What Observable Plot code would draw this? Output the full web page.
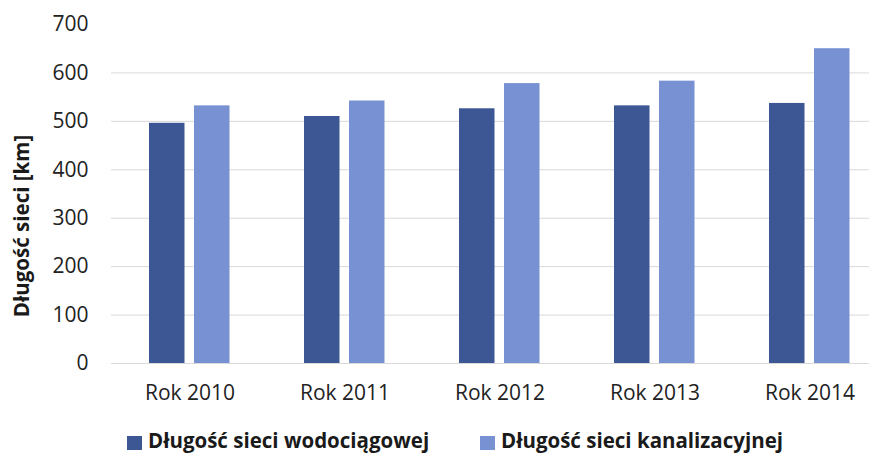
<!DOCTYPE html>
<html>
<head>
<meta charset="utf-8">
<script src="https://cdn.jsdelivr.net/npm/d3@7"></script>
<script src="https://cdn.jsdelivr.net/npm/@observablehq/plot@0.6"></script>
<style>
  html, body { margin: 0; padding: 0; background: #fff; overflow: hidden; }
  #wrap { position: relative; width: 869px; height: 456px; font-family: "Open Sans", sans-serif; }
  .leg { position: absolute; top: 428px; font-weight: 700; font-size: 20.5px; color: #1a1a1a; white-space: nowrap; line-height: 24px; }
  .sw { display: inline-block; width: 15px; height: 14px; margin-right: 6px; vertical-align: -2px; }
</style>
</head>
<body>
<div id="wrap"></div>
<script>
const years = ["Rok 2010", "Rok 2011", "Rok 2012", "Rok 2013", "Rok 2014"];
const wodociagowa = [496, 510, 526, 532, 537];
const kanalizacyjna = [532, 542, 578, 583, 650];
const seriesNames = ["Długość sieci wodociągowej", "Długość sieci kanalizacyjnej"];
const seriesColors = ["#3d5795", "#7891d2"];
const yTicks = [0, 100, 200, 300, 400, 500, 600, 700];
const gridTicks = [0, 100, 200, 300, 400, 500, 600];

const dataW = years.map((y, i) => ({year: y, value: wodociagowa[i]}));
const dataK = years.map((y, i) => ({year: y, value: kanalizacyjna[i]}));

const chart = Plot.plot({
  width: 869,
  height: 410,
  marginLeft: 111,
  marginRight: 0,
  marginTop: 24,
  marginBottom: 47,
  style: {fontFamily: "Open Sans, sans-serif", fontSize: "21px", color: "#222", background: "transparent"},
  x: {type: "band", domain: years, range: [111, 888], padding: 0},
  y: {domain: [0, 700]},
  marks: [
    Plot.gridY(gridTicks, {stroke: "#d9d9d9", strokeOpacity: 1}),
    Plot.barY(dataW, {x: "year", y: "value", fill: seriesColors[0], insetLeft: 37, insetRight: 82.5}),
    Plot.barY(dataK, {x: "year", y: "value", fill: seriesColors[1], insetLeft: 82, insetRight: 37.5}),
    Plot.axisY(yTicks, {tickSize: 0, tickPadding: 23, label: null, fontSize: 21, fill: "#222"}),
    Plot.axisX({tickSize: 0, tickPadding: 22, label: null, fontSize: 21, fill: "#222"})
  ]
});

const wrap = document.getElementById("wrap");
wrap.appendChild(chart);

d3.select(chart).append("text")
  .attr("transform", "translate(22,226) rotate(-90)")
  .attr("text-anchor", "middle")
  .attr("dy", "0.35em")
  .attr("font-weight", 700)
  .attr("font-size", 20.5)
  .attr("fill", "#1a1a1a")
  .text("Długość sieci [km]");

const legLefts = [127, 480];
seriesNames.forEach((name, i) => {
  const d = document.createElement("div");
  d.className = "leg";
  d.style.left = legLefts[i] + "px";
  const s = document.createElement("span");
  s.className = "sw";
  s.style.background = seriesColors[i];
  d.appendChild(s);
  d.appendChild(document.createTextNode(name));
  wrap.appendChild(d);
});
</script>
</body>
</html>
